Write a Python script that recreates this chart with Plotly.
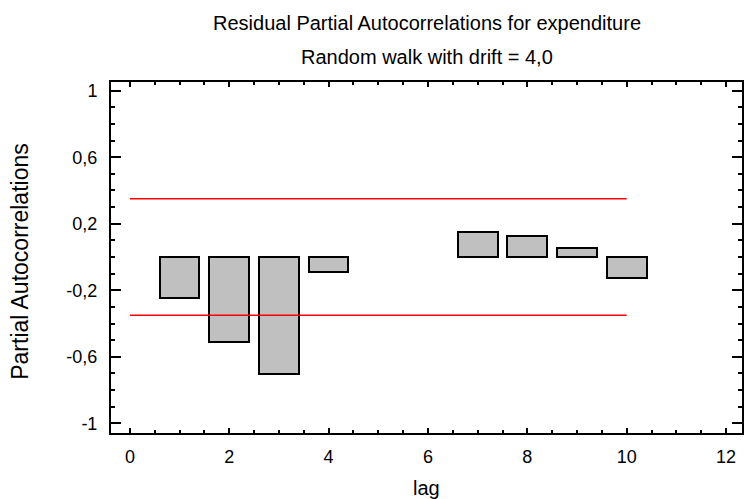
import plotly.graph_objects as go

# Residual partial autocorrelations by lag (lags 5 and 6 are not drawn)
lags = [1, 2, 3, 4, 5, 6, 7, 8, 9, 10]
pacf = [-0.247, -0.51, -0.705, -0.093, None, None, 0.148, 0.125, 0.053, -0.127]

# 95% probability limits
limit_lags = [0, 10]
upper_limit = [0.35, 0.35]
lower_limit = [-0.35, -0.35]

x_ticks = [0, 2, 4, 6, 8, 10, 12]
x_tick_labels = ["0", "2", "4", "6", "8", "10", "12"]
y_ticks = [-1, -0.6, -0.2, 0.2, 0.6, 1]
y_tick_labels = ["-1", "-0,6", "-0,2", "0,2", "0,6", "1"]

title_text = "Residual Partial Autocorrelations for expenditure"
subtitle_text = "Random walk with drift = 4,0"
x_title = "lag"
y_title = "Partial Autocorrelations"

FONT = "Liberation Sans, Arial, sans-serif"
W, H = 744, 499
M = dict(l=111, r=0, t=82, b=66)
plot_h = H - M["t"] - M["b"]
plot_w = W - M["l"] - M["r"]

fig = go.Figure()
fig.add_trace(go.Bar(
    x=lags, y=pacf, width=0.8,
    marker=dict(color="#c0c0c0", line=dict(color="black", width=2)),
    showlegend=False,
))
for ys in (upper_limit, lower_limit):
    fig.add_trace(go.Scatter(
        x=limit_lags, y=ys, mode="lines",
        line=dict(color="#ff0000", width=1.6), showlegend=False,
    ))

axis_common = dict(
    showline=True, linecolor="black", linewidth=2, mirror="allticks",
    ticks="inside", tickcolor="black", tickwidth=2,
    showgrid=False, zeroline=False,
    tickfont=dict(family=FONT, size=18, color="black"),
)
fig.update_xaxes(
    range=[-0.38, 12.32], tickmode="array", tickvals=x_ticks, ticktext=x_tick_labels,
    ticklen=5, ticklabelstandoff=6,
    minor=dict(tickmode="linear", tick0=0, dtick=0.5, ticks="inside",
               ticklen=3, tickwidth=2, tickcolor="black"),
    **axis_common,
)
fig.update_yaxes(
    range=[-1.058, 1.052], tickmode="array", tickvals=y_ticks, ticktext=y_tick_labels,
    ticklen=10, ticklabelstandoff=8,
    minor=dict(tickmode="linear", tick0=-1, dtick=0.1, ticks="inside",
               ticklen=4, tickwidth=2, tickcolor="black"),
    **axis_common,
)

def px_above(p):
    return 1 + p / plot_h

fig.add_annotation(text=title_text, xref="paper", yref="paper", x=0.5, y=px_above(59),
                   xanchor="center", yanchor="middle", showarrow=False,
                   font=dict(family=FONT, size=20, color="black"))
fig.add_annotation(text=subtitle_text, xref="paper", yref="paper", x=0.5, y=px_above(25),
                   xanchor="center", yanchor="middle", showarrow=False,
                   font=dict(family=FONT, size=20, color="black"))
fig.add_annotation(text=x_title, xref="paper", yref="paper", x=0.5, y=-(55 / plot_h),
                   xanchor="center", yanchor="middle", showarrow=False,
                   font=dict(family=FONT, size=20, color="black"))
fig.add_annotation(text=y_title, xref="paper", yref="paper", x=-(92 / plot_w),
                   y=0.5 - 4 / plot_h,
                   xanchor="center", yanchor="middle", textangle=-90, showarrow=False,
                   font=dict(family=FONT, size=23, color="black"))

fig.update_layout(
    width=W, height=H, margin=M,
    paper_bgcolor="white", plot_bgcolor="white",
    bargap=0, showlegend=False,
)

fig.write_html("out.html")
